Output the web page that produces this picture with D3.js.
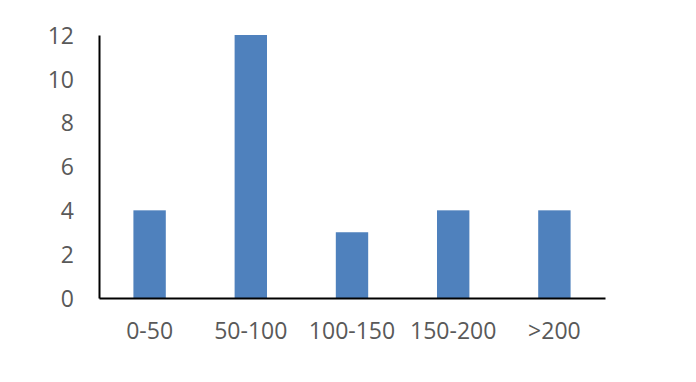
<!DOCTYPE html>
<html>
<head>
<meta charset="utf-8">
<script src="https://cdn.jsdelivr.net/npm/d3@7"></script>
<style>
  body { margin: 0; background: #fff; }
  svg text { font-family: "Open Sans", sans-serif; fill: #595959; }
</style>
</head>
<body>
<div id="chart"></div>
<script>
// bins and counts
const categories = ["0-50", "50-100", "100-150", "150-200", ">200"];
const counts = [4, 12, 3, 4, 4];
const yTicks = [0, 2, 4, 6, 8, 10, 12];

const width = 696;
const height = 382;
const margin = { top: 35, right: 91, bottom: 84, left: 99 };

const svg = d3.select("#chart")
  .append("svg")
  .attr("width", width)
  .attr("height", height);

const x = d3.scaleBand()
  .domain(categories)
  .range([margin.left, width - margin.right])
  .paddingInner(0.68)
  .paddingOuter(0.34);

const y = d3.scaleLinear()
  .domain([0, 12])
  .range([height - margin.bottom, margin.top]);

const data = categories.map((c, i) => ({ cat: c, value: counts[i] }));

svg.selectAll(".bar")
  .data(data)
  .enter()
  .append("rect")
  .attr("class", "bar")
  .attr("x", d => x(d.cat))
  .attr("y", d => y(d.value))
  .attr("width", x.bandwidth())
  .attr("height", d => y(0) - y(d.value))
  .attr("fill", "#4f81bd");

// y axis
const yAxis = svg.append("g")
  .attr("transform", `translate(${margin.left},0)`)
  .call(d3.axisLeft(y).tickValues(yTicks).tickSize(0).tickPadding(25));
yAxis.select(".domain").attr("stroke", "#000").attr("stroke-width", 2);
yAxis.selectAll("text")
  .style("font-size", "23px")
  .attr("dy", "0.36em");

// x axis
const xAxis = svg.append("g")
  .attr("transform", `translate(0,${y(0)})`)
  .call(d3.axisBottom(x).tickSize(0).tickPadding(25));
xAxis.select(".domain").attr("stroke", "#000").attr("stroke-width", 2);
xAxis.selectAll("text")
  .style("font-size", "23px");
</script>
</body>
</html>
